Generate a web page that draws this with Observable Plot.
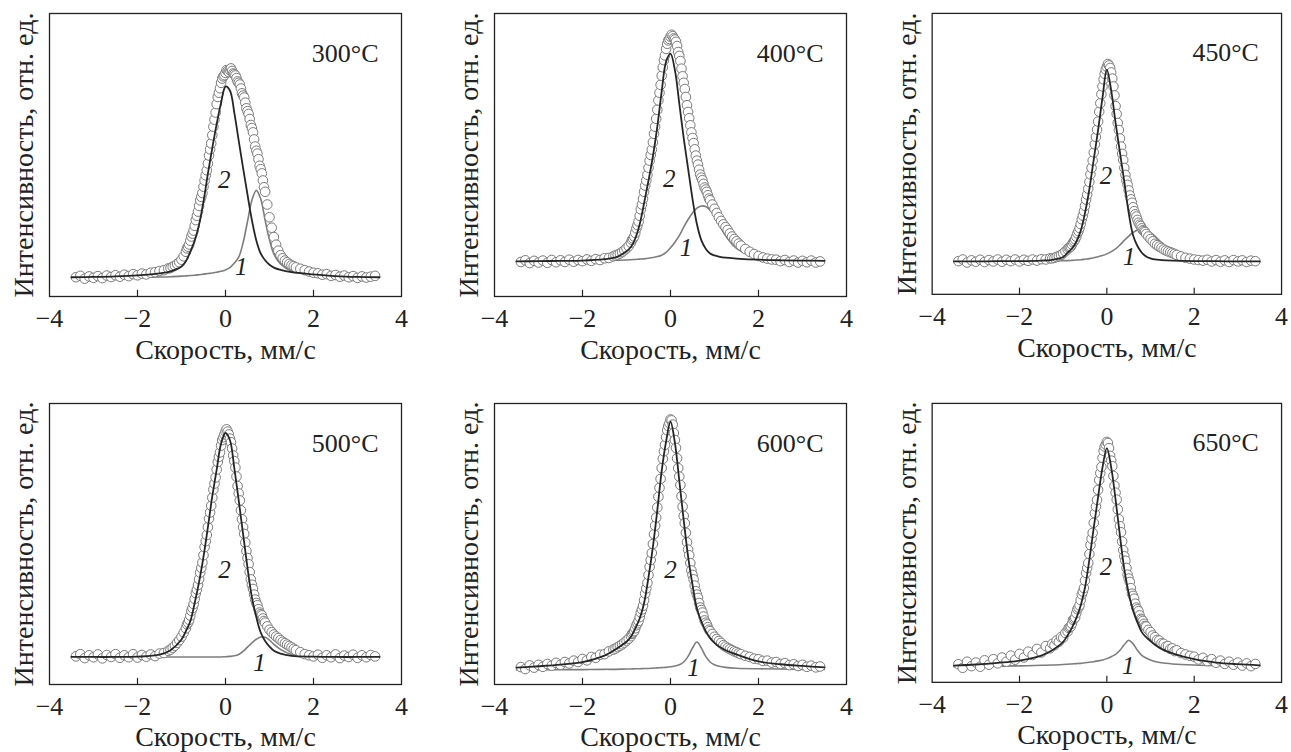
<!DOCTYPE html>
<html><head><meta charset="utf-8">
<script src="https://cdn.jsdelivr.net/npm/d3@7"></script>
<script src="https://cdn.jsdelivr.net/npm/@observablehq/plot@0.6"></script>
<style>
html,body{margin:0;padding:0;background:#fff;}
#wrap{position:relative;width:1291px;height:752px;overflow:hidden;background:#fff;}
.panel{position:absolute;}
.panel svg, .panel svg text{font-family:"Liberation Serif","Times New Roman",serif !important;}
</style></head><body><div id="wrap"></div>
<script>
// Annealing temperatures (panel titles)
const temps = ["300°C","400°C","450°C","500°C","600°C","650°C"];
const xTitle = "Скорость, мм/с";
const yTitle = "Интенсивность, отн. ед.";
const xTicks = [-4,-2,0,2,4];
const innerTicks = [-2,0,2];

// Velocity channels of the measured points (mm/s)
const vel = [-3.4,-3.3,-3.2,-3.1,-3.0,-2.9,-2.8,-2.7,-2.6,-2.5,-2.4,-2.3,-2.2,-2.1,-2.0,-1.9,-1.8,-1.7,-1.6,-1.5,-1.4,-1.3,
 -1.25,-1.2,-1.15,-1.1,-1.05,-1.0,-0.95,-0.9,-0.85,-0.8,-0.75,-0.7,-0.65,-0.6,-0.55,-0.5,-0.45,-0.4,-0.35,-0.3,-0.25,-0.2,-0.15,-0.1,-0.05,
 0,0.05,0.1,0.15,0.2,0.25,0.3,0.35,0.4,0.45,0.5,0.55,0.6,0.65,0.7,0.75,0.8,0.85,0.9,0.95,1.0,1.05,1.1,1.15,1.2,1.25,1.3,1.35,1.4,1.45,1.5,1.55,1.6,
 1.7,1.8,1.9,2.0,2.1,2.2,2.3,2.4,2.5,2.6,2.7,2.8,2.9,3.0,3.1,3.2,3.3,3.4];
// Extra channels in the line centre (second sweep)
const velMid = [-0.875,-0.825,-0.775,-0.725,-0.675,-0.625,-0.575,-0.525,-0.475,-0.425,-0.375,-0.325,-0.275,-0.225,-0.175,-0.125,-0.075,-0.025,
 0.025,0.075,0.125,0.175,0.225,0.275,0.325,0.375,0.425,0.475,0.525,0.575,0.625,0.675,0.725,0.775,0.825,0.875];

// Measured intensity (relative units) at each velocity channel
const counts300 = [0.068,0.073,0.063,0.071,0.066,0.072,0.065,0.074,0.069,0.075,0.070,0.077,0.072,0.079,0.075,0.081,0.078,0.084,0.086,0.090,0.093,0.099,
 0.101,0.105,0.109,0.115,0.121,0.130,0.142,0.158,0.176,0.197,0.222,0.250,0.285,0.320,0.352,0.388,0.428,0.470,0.520,0.570,0.625,0.680,0.720,0.755,0.778,
 0.790,0.797,0.800,0.797,0.785,0.772,0.755,0.735,0.710,0.685,0.655,0.627,0.595,0.555,0.515,0.485,0.450,0.410,0.370,0.325,0.280,0.243,0.210,0.183,0.162,0.146,0.135,0.127,0.121,0.115,0.110,0.107,0.103,
 0.098,0.093,0.088,0.084,0.082,0.077,0.079,0.073,0.076,0.070,0.074,0.068,0.072,0.066,0.071,0.067,0.070,0.073];
const counts400 = [0.122,0.128,0.118,0.126,0.120,0.127,0.119,0.129,0.121,0.128,0.122,0.130,0.123,0.129,0.125,0.131,0.126,0.132,0.129,0.135,0.136,0.142,
 0.145,0.148,0.152,0.157,0.163,0.170,0.178,0.190,0.205,0.225,0.252,0.285,0.325,0.370,0.410,0.455,0.500,0.545,0.600,0.660,0.720,0.780,0.835,0.875,0.905,
 0.918,0.920,0.908,0.885,0.850,0.805,0.755,0.705,0.652,0.605,0.560,0.520,0.480,0.448,0.420,0.398,0.378,0.358,0.340,0.325,0.310,0.295,0.280,0.267,0.255,0.245,0.235,0.223,0.212,0.203,0.195,0.187,0.180,
 0.168,0.158,0.150,0.143,0.138,0.134,0.131,0.130,0.125,0.129,0.122,0.127,0.120,0.126,0.121,0.127,0.120,0.124];
const counts450 = [0.118,0.124,0.113,0.121,0.116,0.123,0.115,0.122,0.117,0.124,0.116,0.123,0.118,0.124,0.117,0.123,0.119,0.124,0.120,0.125,0.124,0.128,
 0.128,0.130,0.133,0.136,0.140,0.146,0.153,0.160,0.168,0.177,0.190,0.205,0.225,0.250,0.280,0.315,0.355,0.400,0.450,0.505,0.560,0.615,0.680,0.740,0.785,
 0.810,0.815,0.790,0.740,0.670,0.610,0.555,0.500,0.450,0.405,0.370,0.338,0.310,0.285,0.265,0.248,0.235,0.225,0.215,0.206,0.197,0.189,0.180,0.175,0.170,0.165,0.160,0.156,0.153,0.150,0.147,0.144,0.140,
 0.135,0.130,0.127,0.124,0.122,0.120,0.123,0.117,0.122,0.116,0.121,0.115,0.122,0.117,0.121,0.115,0.120,0.118];
const counts500 = [0.100,0.108,0.094,0.104,0.097,0.107,0.093,0.105,0.098,0.108,0.095,0.104,0.097,0.108,0.096,0.105,0.099,0.107,0.101,0.110,0.112,0.120,
 0.124,0.131,0.138,0.148,0.158,0.170,0.185,0.200,0.220,0.245,0.272,0.305,0.338,0.375,0.415,0.460,0.510,0.560,0.612,0.665,0.715,0.765,0.810,0.850,0.880,
 0.900,0.900,0.875,0.840,0.795,0.740,0.680,0.620,0.560,0.505,0.450,0.400,0.355,0.320,0.290,0.268,0.250,0.235,0.220,0.207,0.195,0.186,0.178,0.171,0.165,0.158,0.152,0.147,0.142,0.137,0.132,0.127,0.122,
 0.115,0.108,0.104,0.100,0.106,0.095,0.104,0.097,0.107,0.094,0.103,0.098,0.106,0.095,0.104,0.097,0.105,0.100];
const counts600 = [0.062,0.055,0.068,0.060,0.070,0.063,0.073,0.067,0.077,0.070,0.080,0.075,0.085,0.080,0.091,0.086,0.098,0.095,0.106,0.108,0.118,0.124,
 0.128,0.133,0.138,0.143,0.149,0.156,0.163,0.172,0.185,0.200,0.218,0.240,0.267,0.300,0.342,0.390,0.443,0.500,0.565,0.630,0.700,0.770,0.830,0.880,0.920,
 0.943,0.925,0.870,0.805,0.740,0.670,0.600,0.540,0.480,0.432,0.390,0.352,0.320,0.290,0.265,0.242,0.220,0.204,0.190,0.180,0.170,0.162,0.155,0.148,0.140,0.135,0.130,0.126,0.122,0.118,0.115,0.111,0.108,
 0.102,0.098,0.092,0.090,0.084,0.085,0.078,0.080,0.073,0.076,0.069,0.072,0.066,0.070,0.063,0.067,0.061,0.064];
const counts650 = [0.065,0.052,0.074,0.058,0.071,0.056,0.079,0.063,0.083,0.068,0.089,0.074,0.096,0.081,0.102,0.089,0.110,0.098,0.120,0.107,0.130,0.122,
 0.138,0.133,0.150,0.145,0.162,0.160,0.177,0.182,0.198,0.210,0.228,0.248,0.268,0.295,0.325,0.365,0.410,0.460,0.515,0.572,0.630,0.690,0.750,0.805,0.845,
 0.862,0.840,0.795,0.740,0.680,0.620,0.560,0.505,0.452,0.410,0.372,0.338,0.310,0.282,0.262,0.240,0.225,0.210,0.200,0.188,0.180,0.168,0.162,0.152,0.150,0.140,0.138,0.128,0.130,0.120,0.122,0.112,0.115,
 0.105,0.100,0.095,0.092,0.082,0.088,0.076,0.083,0.070,0.078,0.066,0.074,0.063,0.071,0.060,0.068,0.058,0.066];

// Measured intensity at the extra centre channels
const mid300 = [0.170,0.184,0.212,0.233,0.270,0.300,0.340,0.366,0.410,0.446,0.498,0.541,0.600,0.650,0.705,0.736,0.770,0.782,
 0.800,0.793,0.806,0.788,0.781,0.760,0.749,0.718,0.703,0.665,0.645,0.606,0.580,0.530,0.505,0.462,0.435,0.386];
const mid400 = [0.200,0.212,0.241,0.265,0.308,0.345,0.392,0.430,0.480,0.519,0.575,0.628,0.693,0.748,0.810,0.852,0.893,0.910,
 0.925,0.912,0.900,0.864,0.832,0.778,0.733,0.676,0.630,0.580,0.542,0.498,0.466,0.431,0.411,0.385,0.370,0.346];
const mid450 = [0.166,0.170,0.185,0.196,0.217,0.236,0.267,0.296,0.337,0.376,0.427,0.476,0.534,0.586,0.650,0.712,0.765,0.800,
 0.820,0.806,0.768,0.708,0.642,0.585,0.526,0.478,0.425,0.390,0.352,0.326,0.296,0.277,0.255,0.243,0.228,0.222];
const mid500 = [0.214,0.230,0.262,0.286,0.325,0.354,0.398,0.434,0.489,0.532,0.590,0.636,0.694,0.737,0.792,0.826,0.870,0.890,
 0.908,0.890,0.862,0.815,0.772,0.706,0.655,0.588,0.536,0.475,0.428,0.374,0.340,0.302,0.282,0.256,0.246,0.226];
const mid600 = [0.180,0.190,0.211,0.226,0.256,0.280,0.324,0.362,0.419,0.468,0.535,0.594,0.668,0.732,0.803,0.853,0.905,0.930,
 0.940,0.895,0.842,0.770,0.710,0.633,0.574,0.506,0.460,0.406,0.374,0.332,0.308,0.274,0.256,0.228,0.214,0.195];
const mid650 = [0.195,0.200,0.224,0.232,0.262,0.276,0.315,0.338,0.392,0.428,0.492,0.536,0.606,0.654,0.725,0.772,0.830,0.852,
 0.858,0.812,0.775,0.705,0.655,0.585,0.538,0.474,0.436,0.386,0.360,0.318,0.300,0.268,0.255,0.228,0.220,0.202];

// Velocities at which the fitted components are sampled (mm/s)
const fitV = [-3.5,-3,-2.5,-2,-1.5,-1.25,-1,-0.9,-0.8,-0.7,-0.6,-0.5,-0.4,-0.3,-0.2,-0.1,0,0.1,0.2,0.3,0.4,0.5,0.6,0.7,0.8,0.9,1,1.1,1.25,1.5,2,2.5,3,3.5];

// Component 2 (dark fitted line)
const comp2_300 = [0.068,0.069,0.071,0.075,0.082,0.089,0.106,0.125,0.158,0.198,0.255,0.336,0.434,0.525,0.610,0.685,0.742,0.728,0.650,0.551,0.454,0.360,0.270,0.198,0.152,0.128,0.112,0.102,0.094,0.086,0.078,0.072,0.069,0.068];
const comp2_400 = [0.124,0.125,0.126,0.127,0.132,0.138,0.160,0.175,0.205,0.255,0.330,0.410,0.495,0.600,0.725,0.830,0.858,0.800,0.682,0.560,0.452,0.345,0.256,0.199,0.169,0.152,0.145,0.141,0.137,0.134,0.130,0.128,0.127,0.126];
const comp2_450 = [0.117,0.117,0.118,0.118,0.120,0.123,0.133,0.148,0.163,0.187,0.225,0.290,0.375,0.480,0.585,0.700,0.800,0.725,0.610,0.505,0.400,0.290,0.210,0.172,0.148,0.135,0.128,0.124,0.122,0.120,0.118,0.118,0.117,0.117];
const comp2_500 = [0.098,0.098,0.098,0.099,0.106,0.122,0.160,0.190,0.225,0.290,0.365,0.455,0.560,0.670,0.765,0.858,0.895,0.870,0.770,0.655,0.535,0.415,0.310,0.240,0.185,0.155,0.135,0.120,0.110,0.102,0.099,0.098,0.098,0.098];
const comp2_600 = [0.060,0.065,0.071,0.080,0.103,0.125,0.152,0.170,0.200,0.235,0.290,0.382,0.490,0.620,0.760,0.865,0.935,0.860,0.725,0.585,0.455,0.355,0.270,0.225,0.190,0.165,0.148,0.135,0.122,0.107,0.082,0.072,0.066,0.061];
const comp2_650 = [0.060,0.064,0.070,0.078,0.096,0.115,0.145,0.168,0.195,0.230,0.275,0.340,0.440,0.555,0.665,0.770,0.840,0.770,0.655,0.525,0.405,0.320,0.258,0.215,0.180,0.162,0.148,0.135,0.120,0.104,0.083,0.071,0.065,0.061];

// Component 1 (grey fitted line)
const comp1_300 = [0.067,0.067,0.067,0.068,0.069,0.070,0.072,0.073,0.074,0.075,0.077,0.079,0.081,0.083,0.086,0.089,0.094,0.102,0.118,0.139,0.190,0.265,0.340,0.375,0.345,0.270,0.200,0.150,0.115,0.090,0.076,0.071,0.069,0.068];
const comp1_400 = [0.124,0.125,0.125,0.126,0.127,0.128,0.129,0.130,0.131,0.132,0.133,0.135,0.138,0.141,0.146,0.156,0.172,0.192,0.215,0.245,0.272,0.295,0.312,0.320,0.318,0.305,0.285,0.255,0.215,0.170,0.138,0.130,0.127,0.126];
const comp1_450 = [0.117,0.117,0.117,0.118,0.118,0.119,0.120,0.120,0.121,0.122,0.123,0.125,0.127,0.130,0.134,0.138,0.144,0.152,0.162,0.176,0.192,0.207,0.220,0.229,0.232,0.229,0.220,0.207,0.185,0.155,0.130,0.122,0.119,0.118];
const comp1_500 = [0.098,0.098,0.098,0.098,0.098,0.098,0.098,0.098,0.098,0.098,0.098,0.098,0.098,0.098,0.098,0.098,0.099,0.100,0.102,0.107,0.118,0.133,0.148,0.161,0.169,0.168,0.158,0.143,0.125,0.107,0.099,0.098,0.098,0.098];
const comp1_600 = [0.052,0.052,0.053,0.053,0.054,0.054,0.055,0.055,0.056,0.056,0.057,0.057,0.058,0.059,0.060,0.061,0.063,0.066,0.070,0.080,0.100,0.130,0.151,0.130,0.100,0.080,0.070,0.065,0.061,0.058,0.056,0.055,0.054,0.054];
const comp1_650 = [0.056,0.057,0.058,0.059,0.061,0.062,0.064,0.065,0.066,0.067,0.068,0.070,0.072,0.074,0.077,0.080,0.085,0.092,0.100,0.115,0.135,0.151,0.138,0.115,0.097,0.087,0.080,0.075,0.070,0.066,0.062,0.060,0.059,0.058];

// Curve labels "1" and "2": anchor velocity and intensity
const lab1V = [0.36,0.35,0.51,0.77,0.52,0.49];
const lab1I = [0.104,0.173,0.132,0.075,0.057,0.057];
const lab2V = [-0.03,-0.03,-0.02,-0.02,0.0,-0.02];
const lab2I = [0.41,0.416,0.42,0.406,0.406,0.413];

const counts = [counts300,counts400,counts450,counts500,counts600,counts650];
const mids = [mid300,mid400,mid450,mid500,mid600,mid650];
const comp2 = [comp2_300,comp2_400,comp2_450,comp2_500,comp2_600,comp2_650];
const comp1 = [comp1_300,comp1_400,comp1_450,comp1_500,comp1_600,comp1_650];

const fmt = d => d < 0 ? "\u2212" + Math.abs(d) : String(d);
const FONT = "Liberation Serif";
const frameLeft = [49, 494, 932];
const wrap = document.getElementById("wrap");

temps.forEach((t, i) => {
  const row = Math.floor(i / 3), col = i % 3;
  const H = row === 0 ? 390 : 362;
  const mb = row === 0 ? 94 : 68;
  const pts = vel.map((v, k) => ({v, I: counts[i][k]}))
    .concat(velMid.map((v, k) => ({v, I: mids[i][k]})))
    .sort((a, b) => a.v - b.v);
  const c2 = fitV.map((v, k) => ({v, I: comp2[i][k]}));
  const c1 = fitV.map((v, k) => ({v, I: comp1[i][k]}));
  const svg = Plot.plot({
    width: 411, height: H,
    marginLeft: 49, marginRight: 10, marginTop: 13, marginBottom: mb,
    style: {fontFamily: FONT, fontSize: "26px", background: "transparent", overflow: "visible", color: "#222"},
    x: {domain: [-4, 4], ticks: xTicks, tickFormat: fmt, tickSize: 0, tickPadding: 12, label: null},
    y: {domain: [0, 1], axis: null},
    marks: [
      Plot.line(c1, {x: "v", y: "I", stroke: "#7d7d7d", strokeWidth: 1.6, curve: "catmull-rom"}),
      Plot.dot(pts, {x: "v", y: "I", r: 4.8, stroke: "#7a7a7a", fill: "white", strokeWidth: 1}),
      Plot.line(c2, {x: "v", y: "I", stroke: "#262626", strokeWidth: 1.8, curve: "catmull-rom"}),
      Plot.ruleX(innerTicks, {x: d => d, y1: 0, y2: 0.022, stroke: "#222", strokeWidth: 1.2}),
      Plot.frame({stroke: "#222", strokeWidth: 1.3}),
      Plot.text([t], {text: d => d, frameAnchor: "top-right", dx: -23, dy: 40, lineAnchor: "middle", textAnchor: "end", fontSize: 26, fill: "#222"}),
      Plot.text([{v: lab2V[i], I: lab2I[i], s: "2"}], {x: "v", y: "I", text: "s", fontStyle: "italic", fontSize: 25, fill: "#222"}),
      Plot.text([{v: lab1V[i], I: lab1I[i], s: "1"}], {x: "v", y: "I", text: "s", fontStyle: "italic", fontSize: 25, fill: "#222"}),
      Plot.text([yTitle], {text: d => d, frameAnchor: "left", rotate: -90, dx: -25, textAnchor: "middle", lineAnchor: "middle", fontSize: 28, fill: "#222"}),
      Plot.text([xTitle], {text: d => d, frameAnchor: "bottom", dy: row === 0 ? 54 : 53, textAnchor: "middle", lineAnchor: "middle", fontSize: 28, fill: "#222"})
    ]
  });
  const div = document.createElement("div");
  div.className = "panel";
  div.style.left = (frameLeft[col] - 49) + "px";
  div.style.top = (row === 0 ? 0 : 390) + "px";
  div.appendChild(svg);
  wrap.appendChild(div);
});
</script>
</body></html>
